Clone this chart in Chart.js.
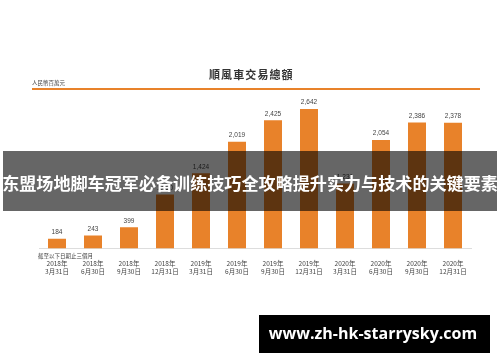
<!DOCTYPE html>
<html>
<head>
<meta charset="utf-8">
<script src="https://cdn.jsdelivr.net/npm/chart.js@4.4.1/dist/chart.umd.min.js"></script>
<style>
body { margin: 0; background: #fff; }
</style>
</head>
<body>
<canvas id="myChart" width="500" height="362"></canvas>
<script>
// data (人民幣百萬元)
const years = ["2018年", "2018年", "2018年", "2018年", "2019年", "2019年", "2019年", "2019年", "2020年", "2020年", "2020年", "2020年"];
const dates = ["3月31日", "6月30日", "9月30日", "12月31日", "3月31日", "6月30日", "9月30日", "12月31日", "3月31日", "6月30日", "9月30日", "12月31日"];
const gtv = [184, 243, 399, 1020, 1424, 2019, 2425, 2642, 1231, 2054, 2386, 2378];

const title = "順風車交易總額";
const unitText = "人民幣百萬元";
const periodText = "截至以下日期止三個月";
const bannerText = "东盟场地脚车冠军必备训练技巧全攻略提升实力与技术的关键要素";
const siteText = "www.zh-hk-starrysky.com";

const orange = "#e8822a";

const decor = {
	id: "decor",
	beforeDraw(chart) {
		const ctx = chart.ctx;
		ctx.save();
		ctx.fillStyle = "#fff";
		ctx.fillRect(0, 0, chart.width, chart.height);
		// title
		ctx.fillStyle = "#333";
		ctx.font = "bold 11px 'Noto Sans CJK TC'";
		ctx.textAlign = "left";
		ctx.textBaseline = "middle";
		let x = 209;
		for (const ch of title) {
			ctx.fillText(ch, x, 75);
			x += 12.1;
		}
		// unit
		ctx.font = "5.5px 'Noto Sans CJK TC'";
		ctx.fillStyle = "#444";
		ctx.fillText(unitText, 32, 83);
		// orange rule
		ctx.fillStyle = orange;
		ctx.fillRect(32, 88, 448, 2);
		ctx.restore();
	},
	afterDatasetsDraw(chart) {
		const ctx = chart.ctx;
		const meta = chart.getDatasetMeta(0);
		ctx.save();
		ctx.fillStyle = "#444";
		ctx.font = "6.5px 'Liberation Sans'";
		ctx.textAlign = "center";
		ctx.textBaseline = "bottom";
		meta.data.forEach((bar, i) => {
			ctx.fillText(gtv[i].toLocaleString("en-US"), bar.x, bar.y - 3);
		});
		ctx.textAlign = "left";
		ctx.textBaseline = "middle";
		ctx.font = "5.5px 'Noto Sans CJK TC'";
		ctx.fillText(periodText, 38, chart.chartArea.bottom + 8);
		ctx.restore();
	},
	afterDraw(chart) {
		const ctx = chart.ctx;
		ctx.save();
		// dark banner
		ctx.fillStyle = "rgba(0,0,0,0.6)";
		ctx.fillRect(3, 151, 494, 60);
		ctx.fillStyle = "#fff";
		ctx.font = "bold 17.1px 'Noto Sans CJK SC'";
		ctx.textAlign = "center";
		ctx.textBaseline = "middle";
		ctx.fillText(bannerText, 250, 183);
		// site box
		ctx.fillStyle = "#000";
		ctx.fillRect(259, 315, 231, 38);
		ctx.fillStyle = "#fff";
		ctx.font = "bold 16px 'Open Sans'";
		ctx.fillText(siteText, 373, 334);
		ctx.restore();
	}
};

const data = {
	labels: years.map((y, i) => [y, dates[i]]),
	datasets: [{
		data: gtv,
		backgroundColor: orange,
		borderWidth: 0,
		barPercentage: 0.5,
		categoryPercentage: 1
	}]
};

const config = {
	type: "bar",
	data: data,
	options: {
		responsive: false,
		animation: false,
		layout: {
			padding: { left: 39, right: 29, top: 90, bottom: 76 }
		},
		plugins: {
			legend: { display: false },
			tooltip: { enabled: false }
		},
		scales: {
			x: {
				grid: { display: false, drawTicks: false },
				border: { display: true, color: "#dddddd", width: 1 },
				ticks: {
					color: "#444",
					font: { size: 6.5, family: "'Noto Sans CJK TC'" },
					padding: 11,
					maxRotation: 0,
					autoSkip: false
				}
			},
			y: {
				display: false,
				min: 0,
				max: 3000
			}
		}
	},
	plugins: [decor]
};

let ctx = document.getElementById("myChart").getContext("2d");
new Chart(ctx, config);
</script>
</body>
</html>
